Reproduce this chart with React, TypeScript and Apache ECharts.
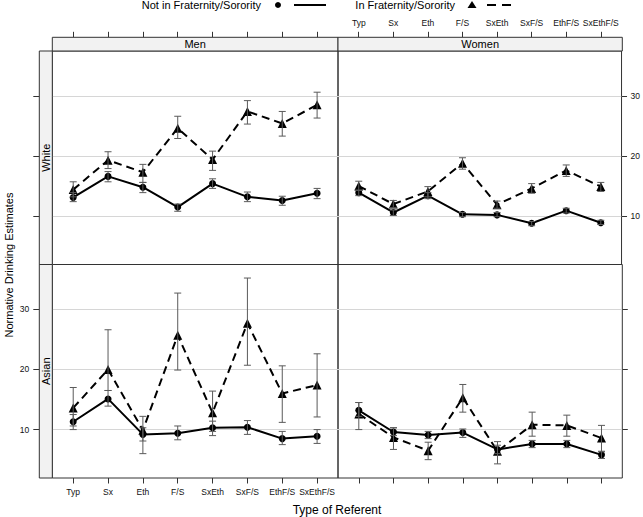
import React, { useEffect, useRef } from "react";
import * as echarts from "echarts";

const categories = ["Typ", "Sx", "Eth", "F/S", "SxEth", "SxF/S", "EthF/S", "SxEthF/S"];
const yTicks = [10, 20, 30];

// White, Men
const whiteMenNot = [13.1, 16.6, 14.8, 11.5, 15.4, 13.2, 12.6, 13.8];
const whiteMenNotLo = [12.4, 15.7, 13.9, 10.8, 14.6, 12.4, 11.8, 12.9];
const whiteMenNotHi = [13.9, 17.4, 15.6, 12.0, 16.2, 14.0, 13.3, 14.6];
const whiteMenIn = [14.4, 19.3, 17.3, 24.6, 19.4, 27.4, 25.4, 28.5];
const whiteMenInLo = [13.2, 17.9, 15.6, 22.9, 17.6, 25.3, 23.3, 26.3];
const whiteMenInHi = [15.7, 20.7, 18.6, 26.6, 20.8, 29.2, 27.4, 30.6];

// White, Women
const whiteWomenNot = [13.9, 10.6, 13.4, 10.3, 10.2, 8.8, 10.9, 8.9];
const whiteWomenNotLo = [13.4, 10.1, 12.9, 9.9, 9.9, 8.4, 10.5, 8.6];
const whiteWomenNotHi = [14.3, 11.0, 13.9, 10.6, 10.6, 9.1, 11.3, 9.3];
const whiteWomenIn = [15.0, 12.0, 14.1, 18.8, 11.9, 14.6, 17.6, 14.9];
const whiteWomenInLo = [14.3, 11.4, 13.2, 17.8, 11.3, 13.8, 16.6, 14.1];
const whiteWomenInHi = [15.8, 12.6, 14.9, 19.7, 12.5, 15.4, 18.5, 15.6];

// Asian, Men
const asianMenNot = [11.3, 15.1, 9.2, 9.4, 10.3, 10.4, 8.5, 8.9];
const asianMenNotLo = [10.0, 13.9, 8.1, 8.3, 9.0, 9.2, 7.5, 7.7];
const asianMenNotHi = [12.5, 16.5, 10.3, 10.6, 11.4, 11.5, 9.7, 10.0];
const asianMenIn = [13.6, 20.0, 9.9, 25.7, 12.8, 27.7, 16.0, 17.4];
const asianMenInLo = [10.6, 16.5, 6.0, 19.9, 9.7, 20.7, 11.2, 12.1];
const asianMenInHi = [17.0, 26.6, 12.2, 32.7, 16.4, 35.2, 20.6, 22.6];

// Asian, Women
const asianWomenNot = [13.2, 9.6, 9.1, 9.5, 6.7, 7.6, 7.6, 5.8];
const asianWomenNotLo = [12.2, 9.0, 8.5, 8.7, 6.0, 7.0, 7.0, 5.2];
const asianWomenNotHi = [14.5, 10.3, 9.7, 10.1, 7.4, 8.2, 8.2, 6.3];
const asianWomenIn = [12.6, 8.7, 6.5, 15.3, 6.4, 10.8, 10.7, 8.6];
const asianWomenInLo = [10.0, 6.7, 5.0, 12.9, 4.3, 8.9, 8.9, 6.4];
const asianWomenInHi = [14.5, 10.3, 7.9, 17.5, 8.0, 12.9, 12.4, 10.7];

const panels = [
  { not: whiteMenNot, notLo: whiteMenNotLo, notHi: whiteMenNotHi, inn: whiteMenIn, inLo: whiteMenInLo, inHi: whiteMenInHi },
  { not: whiteWomenNot, notLo: whiteWomenNotLo, notHi: whiteWomenNotHi, inn: whiteWomenIn, inLo: whiteWomenInLo, inHi: whiteWomenInHi },
  { not: asianMenNot, notLo: asianMenNotLo, notHi: asianMenNotHi, inn: asianMenIn, inLo: asianMenInLo, inHi: asianMenInHi },
  { not: asianWomenNot, notLo: asianWomenNotLo, notHi: asianWomenNotHi, inn: asianWomenIn, inLo: asianWomenInLo, inHi: asianWomenInHi },
];

const FONT = "Liberation Sans, Arial, sans-serif";
const L = 52.3, MID = 338, R = 622.3;
const T = 51, YM = 264.5, B = 478;
const STRIP_TOP = 37.3, STRIP_LEFT = 39.3;

export default function App() {
  const ref = useRef<HTMLDivElement>(null);
  useEffect(() => {
    if (!ref.current) return;
    const chart = echarts.init(ref.current, null, { renderer: "svg" });

    const grids = [
      { left: L, top: T, width: MID - L, height: YM - T },
      { left: MID, top: T, width: R - MID, height: YM - T },
      { left: L, top: YM, width: MID - L, height: B - YM },
      { left: MID, top: YM, width: R - MID, height: B - YM },
    ].map((g) => ({ ...g, show: true, borderColor: "#333", borderWidth: 1, backgroundColor: "transparent", containLabel: false }));

    const xVals = categories.map((_, i) => i + 1);
    const mkX = (gi: number, position: string, offset: number, labels: boolean) => ({
      type: "value",
      gridIndex: gi,
      position,
      offset,
      min: 0.4,
      max: 8.6,
      axisLine: { show: false },
      axisTick: { show: true, customValues: xVals, length: 5.5, inside: false, lineStyle: { color: "#333" } },
      axisLabel: {
        show: labels,
        customValues: xVals,
        formatter: (v: number) => categories[Math.round(v) - 1] || "",
        fontSize: 8.5,
        fontFamily: FONT,
        color: "#111",
        margin: position === "top" ? 10 : 9.5,
        hideOverlap: false,
      },
      splitLine: { show: false },
    });
    const mkY = (gi: number, position: string, offset: number, labels: boolean) => ({
      type: "value",
      gridIndex: gi,
      position,
      offset,
      min: 1.95,
      max: 37.45,
      axisLine: { show: false },
      axisTick: { show: true, customValues: yTicks, length: position === "left" ? 6 : 5.5, inside: false, lineStyle: { color: "#333" } },
      axisLabel: {
        show: labels,
        customValues: yTicks,
        fontSize: 8.5,
        fontFamily: FONT,
        color: "#111",
        margin: position === "left" ? 10 : 9,
      },
      splitLine: { show: true, lineStyle: { color: "#d6d6d6", width: 1 } },
    });

    const xAxis = [
      mkX(0, "top", T - STRIP_TOP, false),
      mkX(1, "top", T - STRIP_TOP, true),
      mkX(2, "bottom", 0, true),
      mkX(3, "bottom", 0, false),
    ];
    const yAxis = [
      mkY(0, "left", L - STRIP_LEFT, false),
      mkY(1, "right", 0, true),
      mkY(2, "left", L - STRIP_LEFT, true),
      mkY(3, "right", 0, false),
    ];

    const errRender = (params: any, api: any) => {
      const x = api.value(0);
      const lo = api.coord([x, api.value(1)]);
      const hi = api.coord([x, api.value(2)]);
      const w = 3.5;
      const style = { stroke: "#5a5a5a", lineWidth: 1 };
      return {
        type: "group",
        children: [
          { type: "line", shape: { x1: lo[0], y1: lo[1], x2: hi[0], y2: hi[1] }, style },
          { type: "line", shape: { x1: lo[0] - w, y1: lo[1], x2: lo[0] + w, y2: lo[1] }, style },
          { type: "line", shape: { x1: hi[0] - w, y1: hi[1], x2: hi[0] + w, y2: hi[1] }, style },
        ],
      };
    };

    const series: any[] = [];
    panels.forEach((p, gi) => {
      series.push({
        type: "line",
        name: "Not in Fraternity/Sorority",
        xAxisIndex: gi,
        yAxisIndex: gi,
        data: p.not.map((v, i) => [i + 1, v]),
        symbol: "circle",
        symbolSize: 7,
        lineStyle: { color: "#000", width: 2 },
        itemStyle: { color: "#000" },
        z: 3,
      });
      series.push({
        type: "line",
        name: "In Fraternity/Sorority",
        xAxisIndex: gi,
        yAxisIndex: gi,
        data: p.inn.map((v, i) => [i + 1, v]),
        symbol: "triangle",
        symbolSize: 9,
        lineStyle: { color: "#000", width: 2, type: [8, 5] },
        itemStyle: { color: "#000" },
        z: 3,
      });
      series.push({
        type: "custom",
        xAxisIndex: gi,
        yAxisIndex: gi,
        renderItem: errRender,
        encode: { x: 0, y: [1, 2] },
        data: p.notLo.map((lo, i) => [i + 1, lo, p.notHi[i]]),
        z: 4,
      });
      series.push({
        type: "custom",
        xAxisIndex: gi,
        yAxisIndex: gi,
        renderItem: errRender,
        encode: { x: 0, y: [1, 2] },
        data: p.inLo.map((lo, i) => [i + 1, lo, p.inHi[i]]),
        z: 4,
      });
    });

    const stripFill = "#f2f2f2";
    const stripStroke = "#333";
    const graphic: any[] = [
      // top strips
      { type: "rect", shape: { x: L, y: STRIP_TOP, width: MID - L, height: T - STRIP_TOP }, style: { fill: stripFill, stroke: stripStroke, lineWidth: 1 }, z: 1 },
      { type: "rect", shape: { x: MID, y: STRIP_TOP, width: R - MID, height: T - STRIP_TOP }, style: { fill: stripFill, stroke: stripStroke, lineWidth: 1 }, z: 1 },
      { type: "text", x: (L + MID) / 2, y: (STRIP_TOP + T) / 2, style: { text: "Men", font: `11px ${FONT}`, fill: "#000", textAlign: "center", textVerticalAlign: "middle" }, z: 2 },
      { type: "text", x: (MID + R) / 2, y: (STRIP_TOP + T) / 2, style: { text: "Women", font: `11px ${FONT}`, fill: "#000", textAlign: "center", textVerticalAlign: "middle" }, z: 2 },
      // left strips
      { type: "rect", shape: { x: STRIP_LEFT, y: T, width: L - STRIP_LEFT, height: YM - T }, style: { fill: stripFill, stroke: stripStroke, lineWidth: 1 }, z: 1 },
      { type: "rect", shape: { x: STRIP_LEFT, y: YM, width: L - STRIP_LEFT, height: B - YM }, style: { fill: stripFill, stroke: stripStroke, lineWidth: 1 }, z: 1 },
      { type: "text", x: (STRIP_LEFT + L) / 2, y: (T + YM) / 2, rotation: Math.PI / 2, style: { text: "White", font: `11px ${FONT}`, fill: "#000", textAlign: "center", textVerticalAlign: "middle" }, z: 2 },
      { type: "text", x: (STRIP_LEFT + L) / 2, y: (YM + B) / 2, rotation: Math.PI / 2, style: { text: "Asian", font: `11px ${FONT}`, fill: "#000", textAlign: "center", textVerticalAlign: "middle" }, z: 2 },
      // axis titles
      { type: "text", x: 9, y: 265, rotation: Math.PI / 2, style: { text: "Normative Drinking Estimates", font: `11px ${FONT}`, fill: "#000", textAlign: "center", textVerticalAlign: "middle" } },
      { type: "text", x: 337, y: 510, style: { text: "Type of Referent", font: `12px ${FONT}`, fill: "#000", textAlign: "center", textVerticalAlign: "middle" } },
      // legend
      { type: "text", x: 261, y: 5, style: { text: "Not in Fraternity/Sorority", font: `11px ${FONT}`, fill: "#000", textAlign: "right", textVerticalAlign: "middle" } },
      { type: "circle", shape: { cx: 278, cy: 5, r: 3 }, style: { fill: "#000" } },
      { type: "line", shape: { x1: 294, y1: 5, x2: 326, y2: 5 }, style: { stroke: "#000", lineWidth: 2 } },
      { type: "text", x: 455, y: 5, style: { text: "In Fraternity/Sorority", font: `11px ${FONT}`, fill: "#000", textAlign: "right", textVerticalAlign: "middle" } },
      { type: "polygon", shape: { points: [[472, 1], [467.5, 8], [476.5, 8]] }, style: { fill: "#000" } },
      { type: "line", shape: { x1: 487, y1: 5, x2: 516, y2: 5 }, style: { stroke: "#000", lineWidth: 2, lineDash: [9, 6] } },
    ];

    chart.setOption({
      animation: false,
      backgroundColor: "#fff",
      textStyle: { fontFamily: FONT },
      grid: grids,
      xAxis,
      yAxis,
      series,
      graphic,
    });
    return () => chart.dispose();
  }, []);
  return <div ref={ref} style={{ position: "absolute", left: 0, top: 0, width: 643, height: 517 }} />;
}
